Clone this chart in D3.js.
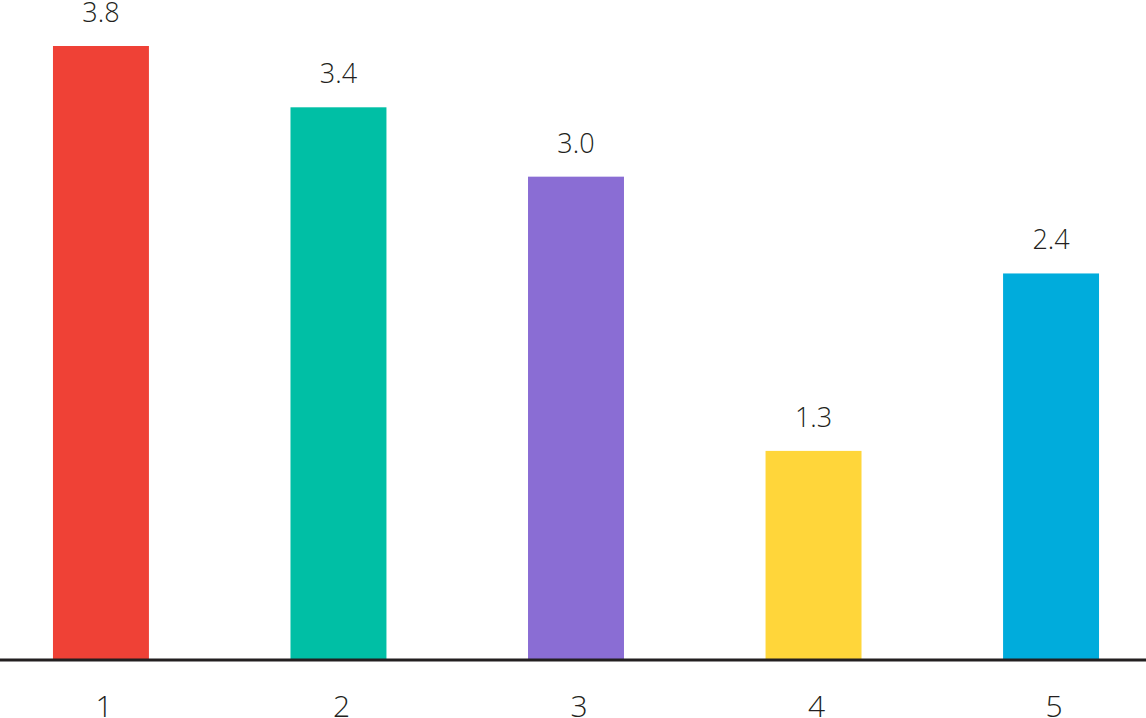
<!DOCTYPE html>
<html>
<head>
<meta charset="utf-8">
<script src="https://cdn.jsdelivr.net/npm/d3@7"></script>
<style>
  body { margin: 0; background: #fff; }
  svg { display: block; }
  text { font-family: "Open Sans", "Lato", sans-serif; fill: #231f20; }
</style>
</head>
<body>
<svg id="chart" width="1146" height="718"></svg>
<script>
var categories = ["1", "2", "3", "4", "5"];
var values = [3.8, 3.42, 2.99, 1.29, 2.39];
var colors = ["#ef4136", "#00bfa5", "#8a6dd4", "#ffd63a", "#00acdc"];

var svg = d3.select("#chart");
var baseY = 659;

var x = d3.scaleBand()
    .domain(categories)
    .range([0, 1152])
    .paddingInner(0.596)
    .paddingOuter(0.223);

var y = d3.scaleLinear()
    .domain([0, 3.8])
    .range([baseY, 46]);

svg.selectAll("rect.bar")
    .data(values)
    .enter()
    .append("rect")
    .attr("class", "bar")
    .attr("x", function(d, i) { return x(categories[i]); })
    .attr("y", function(d) { return y(d); })
    .attr("width", x.bandwidth())
    .attr("height", function(d) { return baseY - y(d); })
    .attr("fill", function(d, i) { return colors[i]; });

svg.selectAll("text.val")
    .data(values)
    .enter()
    .append("text")
    .attr("class", "val")
    .attr("x", function(d, i) { return x(categories[i]) + x.bandwidth() / 2; })
    .attr("y", function(d) { return y(d) - 24; })
    .attr("text-anchor", "middle")
    .style("font-size", "27px")
    .style("font-weight", 300)
    .text(function(d) { return d.toFixed(1); });

// baseline
svg.append("line")
    .attr("x1", 0).attr("x2", 1146)
    .attr("y1", baseY + 1).attr("y2", baseY + 1)
    .attr("stroke", "#231f20")
    .attr("stroke-width", 3);

svg.selectAll("text.cat")
    .data(categories)
    .enter()
    .append("text")
    .attr("class", "cat")
    .attr("x", function(d) { return x(d) + x.bandwidth() / 2 + 3; })
    .attr("y", 717)
    .attr("text-anchor", "middle")
    .style("font-size", "30px")
    .style("font-weight", 300)
    .text(function(d) { return d; });
</script>
</body>
</html>
